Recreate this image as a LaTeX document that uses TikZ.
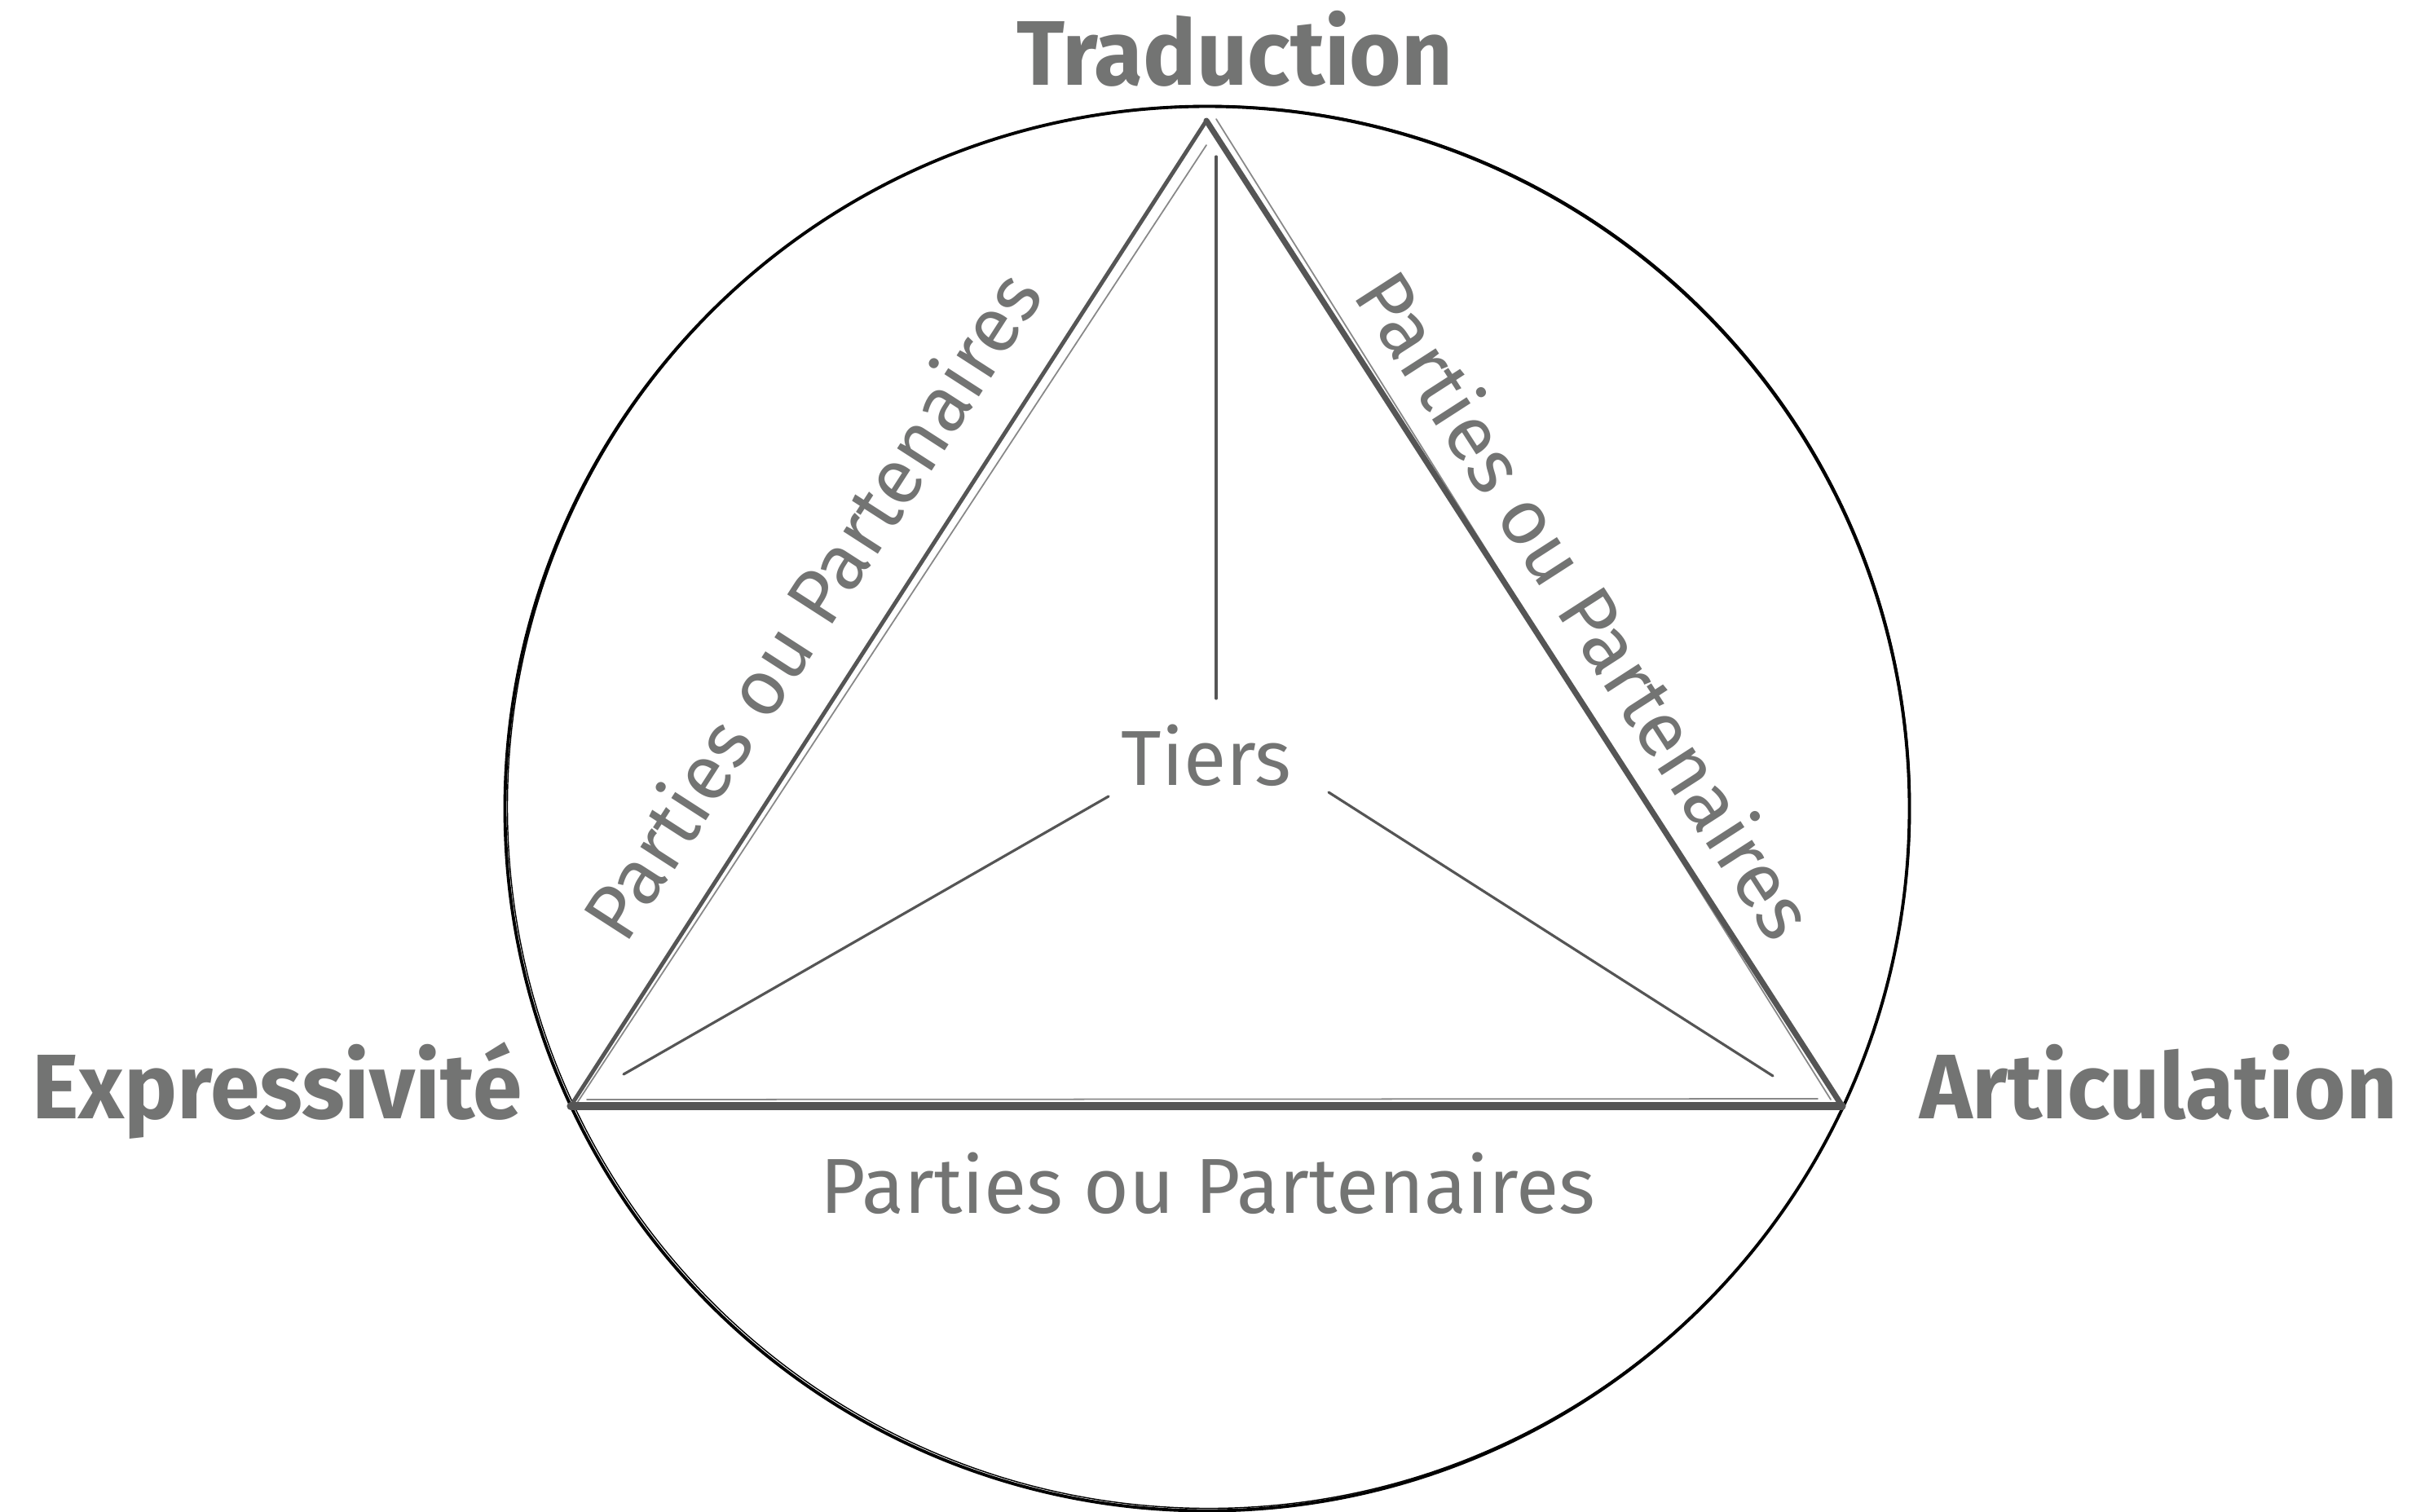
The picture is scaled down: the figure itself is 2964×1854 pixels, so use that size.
\documentclass[tikz,border=0pt]{standalone}
\usepackage{fontspec}
\setmainfont{Fira Sans}
\newfontfamily\polefont{Fira Sans}[FakeStretch=0.97]
\usepackage{tikz}

\definecolor{labelgray}{HTML}{737473}
\definecolor{linegray}{HTML}{555555}

\begin{document}
\begin{tikzpicture}[x=0.01cm,y=-0.01cm,
                    pole node/.style={font=\polefont\fontsize{32}{38}\selectfont\bfseries,text=labelgray,inner sep=0pt,anchor=base},
                    side node/.style={font=\fontsize{27.2}{33}\selectfont,text=labelgray,inner sep=0pt},
                    edge line/.style={draw=linegray,line cap=round,line join=round},
                    sketch line/.style={draw=linegray,line width=0.5pt,line cap=round,opacity=0.7},
                    spoke line/.style={draw=linegray,line width=0.9pt,line cap=round}]

  \useasboundingbox (0,0) rectangle (2964,1854);

  % circle and the three poles
  \coordinate (O) at (1481,992);
  \coordinate (T) at (1480,148);
  \coordinate (E) at (700,1357);
  \coordinate (A) at (2260,1357);

  \draw[line width=1.1pt] (O) circle (8.61cm);
  \draw[line width=0.4pt] ([shift={(2,-2)}]O) circle (8.60cm);

  \draw[edge line,line width=1.4pt] (E) -- (T);
  \draw[edge line,line width=2pt] (T) -- (A);
  \draw[edge line,line width=2.6pt] (A) -- (E);

  % rough second strokes
  \draw[sketch line] ([shift={(8,-4)}]E) -- ([shift={(0,30)}]T);
  \draw[sketch line] ([shift={(12,-2)}]T) -- ([shift={(-14,-8)}]A);
  \draw[sketch line] ([shift={(20,-8)}]E) -- ([shift={(-30,-9)}]A);

  % spokes round the third party
  \coordinate (t1) at (1492,857);
  \coordinate (t2) at (1492,192);
  \coordinate (e1) at (1360,977);
  \coordinate (e2) at (765,1318);
  \coordinate (a1) at (1630,972);
  \coordinate (a2) at (2175,1320);

  \draw[spoke line] (t1) -- (t2);
  \draw[spoke line] (e1) -- (e2);
  \draw[spoke line] (a1) -- (a2);

  \node[pole node] (trad) at (1515,104) {Traduction};
  \node[pole node] (expr) at (340,1372) {Expressivité};
  \node[pole node] (arti) at (2648,1372) {Articulation};

  \node[side node,anchor=base] (tiers) at (1480,963) {Tiers};
  \node[side node,anchor=base] (bas) at (1482,1488) {Parties ou Partenaires};
  \node[side node,rotate=57.2] (gauche) at (994,741) {Parties ou Partenaires};
  \node[side node,rotate=-57.2] (droite) at (1947,741) {Parties ou Partenaires};
\end{tikzpicture}
\end{document}
